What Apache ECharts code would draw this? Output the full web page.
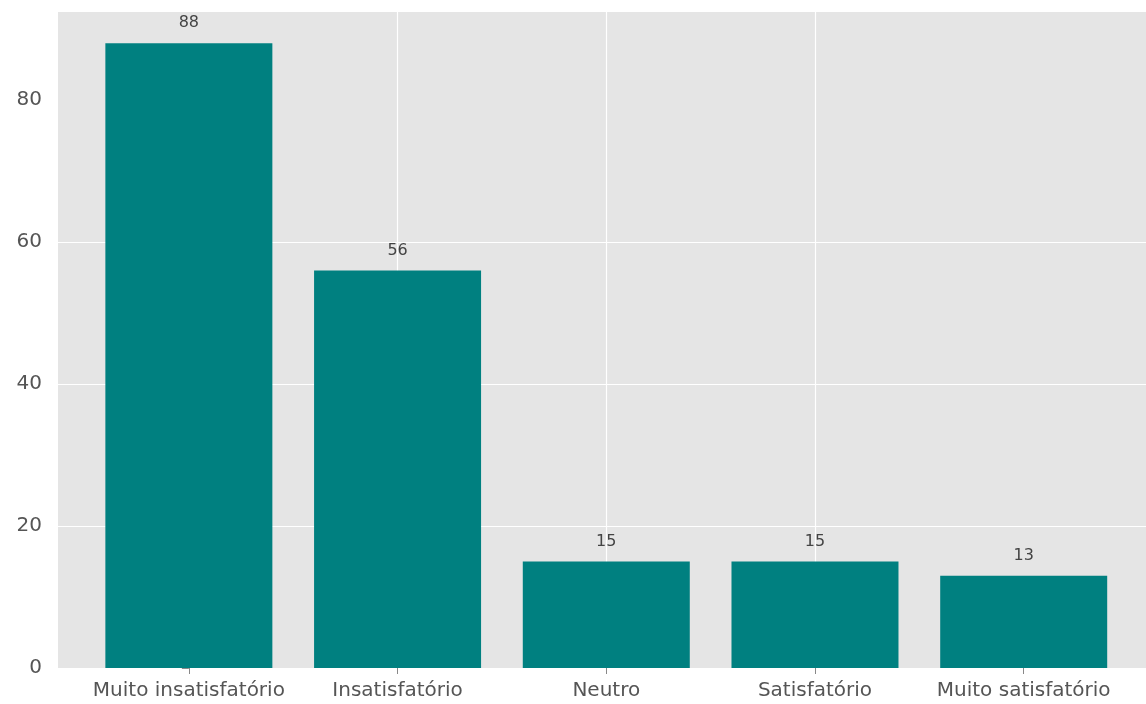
<!DOCTYPE html>
<html>
<head>
<meta charset="utf-8">
<script src="https://cdn.jsdelivr.net/npm/echarts@6/dist/echarts.min.js"></script>
<style>
html,body{margin:0;padding:0;background:#fff;}
#chart{width:1146px;height:704px;}
</style>
</head>
<body>
<div id="chart"></div>
<script>
const categories = ['Muito insatisfatório', 'Insatisfatório', 'Neutro', 'Satisfatório', 'Muito satisfatório'];
const values = [88, 56, 15, 15, 13];
const yTicks = [0, 20, 40, 60, 80];
const yMax = 92.4;
const xPositions = [0, 1, 2, 3, 4];

const chart = echarts.init(document.getElementById('chart'));
const font = 'DejaVu Sans';

chart.setOption({
  animation: false,
  backgroundColor: '#ffffff',
  grid: {
    left: 58, top: 12, right: 0, bottom: 36,
    show: true, backgroundColor: '#e5e5e5', borderWidth: 0
  },
  xAxis: {
    type: 'value',
    min: -0.627,
    max: 4.586,
    minInterval: 1,
    maxInterval: 1,
    axisLine: { show: false },
    axisTick: { show: true, customValues: xPositions, length: 6, lineStyle: { color: '#888', width: 1 } },
    axisLabel: {
      customValues: xPositions,
      formatter: v => categories[Math.round(v)] || '',
      color: '#555', fontSize: 20, fontFamily: font, margin: 13
    },
    splitLine: { show: true, showMinLine: false, showMaxLine: false, lineStyle: { color: '#ffffff', width: 1.2 } }
  },
  yAxis: {
    type: 'value',
    min: 0,
    max: yMax,
    axisLine: { show: false },
    axisTick: { show: true, customValues: yTicks, length: 7, lineStyle: { color: '#888', width: 1 } },
    axisLabel: {
      customValues: yTicks,
      color: '#555', fontSize: 20, fontFamily: font, margin: 16
    },
    splitLine: { show: true, showMinLine: true, showMaxLine: false, lineStyle: { color: '#ffffff', width: 1.2 } }
  },
  series: [{
    type: 'bar',
    data: values.map((v, i) => [xPositions[i], v]),
    barWidth: 167,
    itemStyle: { color: '#008080' },
    label: {
      show: true, position: 'top', distance: 12,
      color: '#444', fontSize: 16, fontFamily: font,
      formatter: p => p.value[1]
    }
  }]
});
</script>
</body>
</html>
